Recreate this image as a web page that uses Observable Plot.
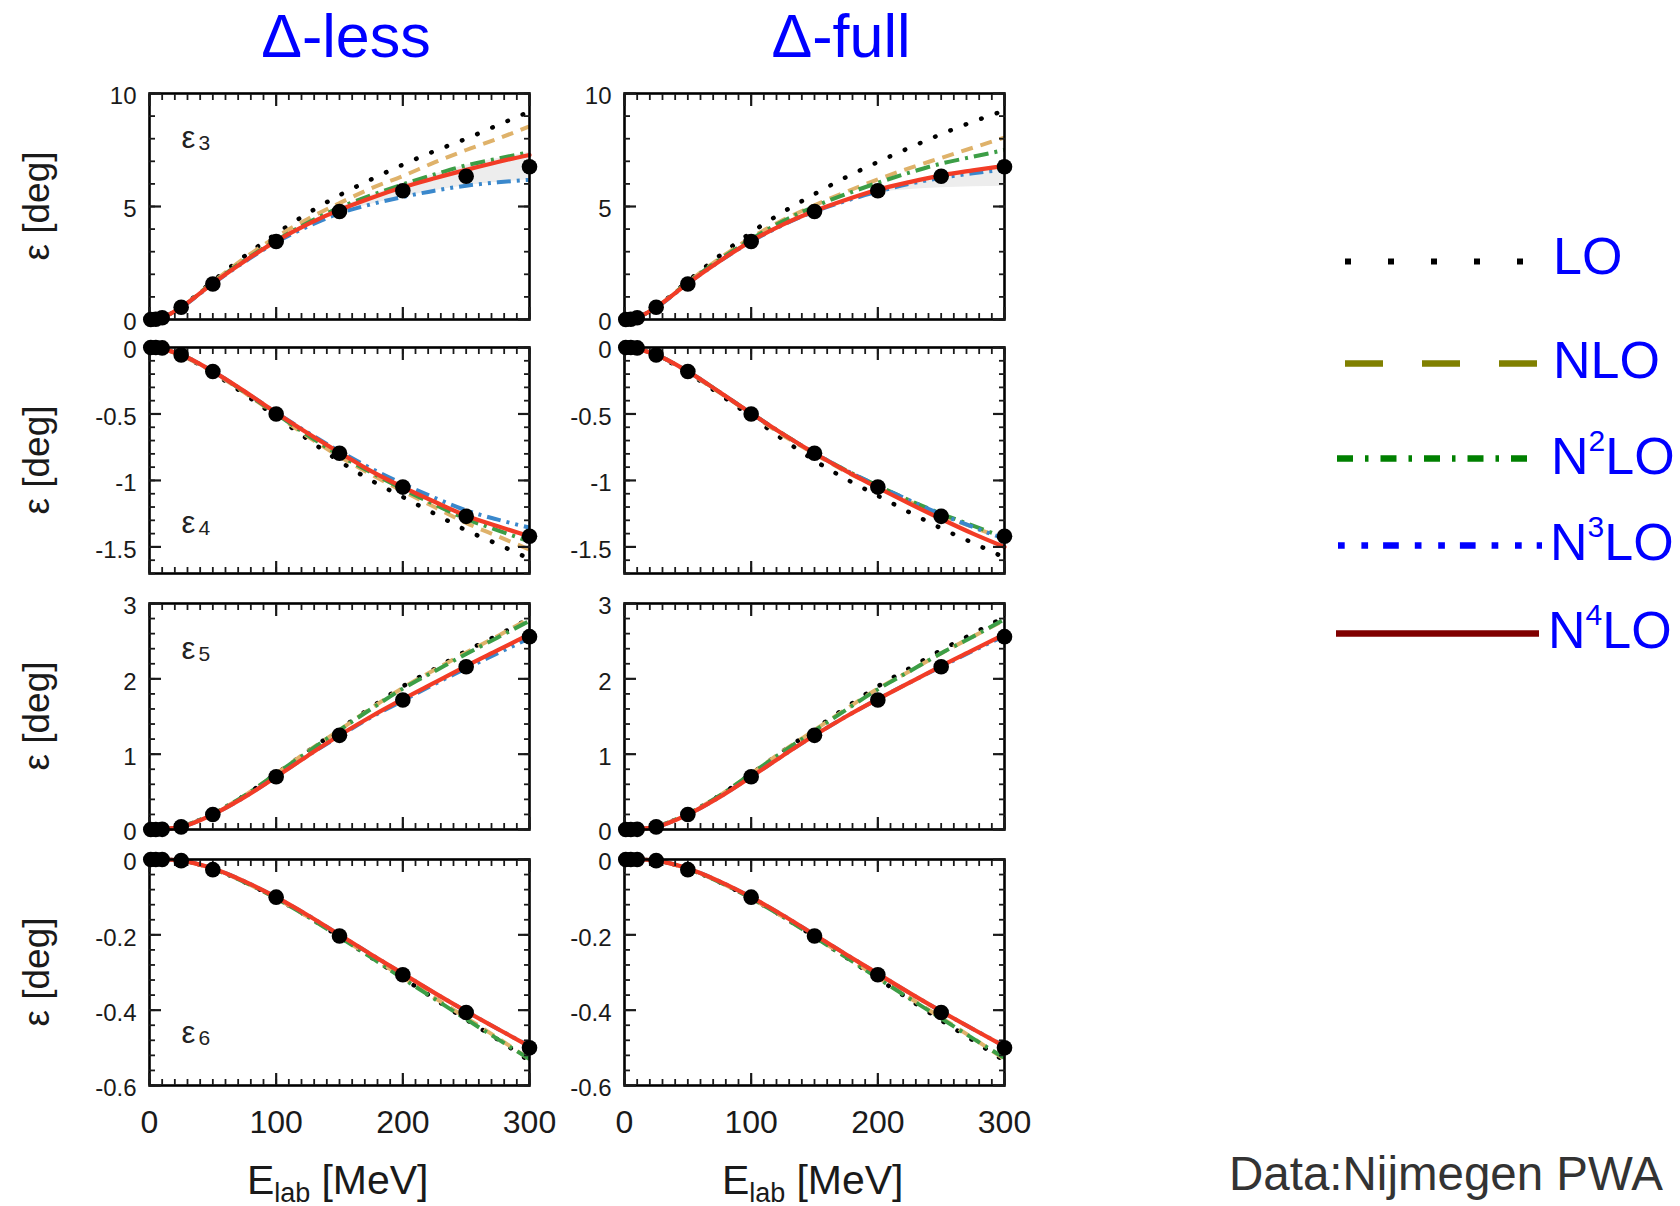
<!DOCTYPE html>
<html><head><meta charset="utf-8">
<script src="https://cdn.jsdelivr.net/npm/d3@7"></script>
<script src="https://cdn.jsdelivr.net/npm/@observablehq/plot@0.6"></script>
<style>
html,body{margin:0;padding:0;background:#fff;}
#root{position:relative;width:1680px;height:1206px;overflow:hidden;font-family:"Liberation Sans",Arial,sans-serif;}
</style></head><body><div id="root"></div>
<script>
// ---------------- data ----------------
const energies = [0, 10, 25, 50, 75, 100, 125, 150, 175, 200, 225, 250, 275, 300];
const pwaEnergies = [1, 5, 10, 25, 50, 100, 150, 200, 250, 300];
const orders = ["LO", "NLO", "N2LO", "N3LO", "N4LO"];
const columnTitles = ["Δ-less", "Δ-full"];
const panelLabels = ["3", "4", "5", "6"];
const xMajorTicks = [0, 100, 200, 300];

// epsilon_3
const pwaE3 = [0.0, 0.01, 0.08, 0.54, 1.57, 3.45, 4.78, 5.7, 6.34, 6.76];
const e3LessLO   = [0, 0.09, 0.56, 1.7, 2.8, 3.8, 4.7, 5.5, 6.2, 6.85, 7.45, 8.0, 8.6, 9.2];
const e3LessNLO  = [0, 0.09, 0.55, 1.65, 2.72, 3.65, 4.45, 5.15, 5.8, 6.35, 6.95, 7.5, 8.0, 8.55];
const e3LessN2LO = [0, 0.09, 0.54, 1.62, 2.62, 3.5, 4.28, 4.95, 5.5, 5.98, 6.42, 6.82, 7.12, 7.4];
const e3LessN3LO = [0, 0.09, 0.53, 1.58, 2.55, 3.42, 4.12, 4.7, 5.1, 5.42, 5.7, 5.92, 6.07, 6.18];
const e3LessN4LO = [0, 0.09, 0.54, 1.6, 2.58, 3.47, 4.22, 4.85, 5.38, 5.85, 6.25, 6.62, 6.97, 7.28];
const e3LessBandLo = [0, 0.09, 0.53, 1.58, 2.55, 3.42, 4.12, 4.7, 5.1, 5.42, 5.7, 5.92, 6.07, 6.18];
const e3LessBandHi = [0, 0.09, 0.54, 1.62, 2.62, 3.5, 4.28, 4.95, 5.5, 5.98, 6.42, 6.82, 7.12, 7.4];
const e3FullLO   = [0, 0.09, 0.56, 1.7, 2.82, 3.85, 4.75, 5.55, 6.3, 6.97, 7.6, 8.2, 8.75, 9.25];
const e3FullNLO  = [0, 0.09, 0.55, 1.65, 2.7, 3.62, 4.4, 5.05, 5.65, 6.2, 6.7, 7.15, 7.6, 8.05];
const e3FullN2LO = [0, 0.09, 0.54, 1.63, 2.65, 3.55, 4.35, 5.0, 5.55, 6.05, 6.5, 6.9, 7.2, 7.5];
const e3FullN3LO = [0, 0.09, 0.53, 1.59, 2.57, 3.45, 4.18, 4.78, 5.25, 5.66, 6.0, 6.27, 6.47, 6.63];
const e3FullN4LO = [0, 0.09, 0.54, 1.6, 2.58, 3.47, 4.2, 4.8, 5.3, 5.74, 6.08, 6.38, 6.6, 6.8];
const e3FullBandLo = [0, 0.09, 0.54, 1.6, 2.58, 3.47, 4.2, 4.8, 5.25, 5.6, 5.75, 5.83, 5.87, 5.9];
const e3FullBandHi = [0, 0.09, 0.54, 1.6, 2.58, 3.47, 4.2, 4.8, 5.3, 5.74, 6.08, 6.38, 6.6, 6.8];

// epsilon_4
const pwaE4 = [0, 0, -0.003, -0.056, -0.18, -0.5, -0.795, -1.05, -1.27, -1.42];
const e4LessLO   = [0, -0.01, -0.06, -0.19, -0.35, -0.52, -0.69, -0.855, -1.0, -1.125, -1.25, -1.375, -1.48, -1.59];
const e4LessNLO  = [0, -0.01, -0.06, -0.185, -0.34, -0.505, -0.67, -0.82, -0.955, -1.08, -1.2, -1.32, -1.42, -1.52];
const e4LessN2LO = [0, -0.01, -0.055, -0.18, -0.335, -0.5, -0.66, -0.81, -0.94, -1.065, -1.18, -1.29, -1.375, -1.46];
const e4LessN3LO = [0, -0.01, -0.055, -0.18, -0.33, -0.49, -0.64, -0.78, -0.91, -1.025, -1.13, -1.225, -1.295, -1.355];
const e4LessN4LO = [0, -0.01, -0.055, -0.18, -0.33, -0.49, -0.645, -0.79, -0.93, -1.05, -1.16, -1.265, -1.345, -1.42];
const e4FullLO   = [0, -0.01, -0.06, -0.19, -0.35, -0.52, -0.69, -0.85, -0.99, -1.115, -1.24, -1.36, -1.47, -1.58];
const e4FullNLO  = [0, -0.01, -0.055, -0.185, -0.34, -0.5, -0.66, -0.8, -0.935, -1.05, -1.16, -1.26, -1.35, -1.44];
const e4FullN2LO = [0, -0.01, -0.055, -0.18, -0.335, -0.495, -0.65, -0.795, -0.925, -1.04, -1.15, -1.25, -1.34, -1.43];
const e4FullN3LO = [0, -0.01, -0.055, -0.18, -0.335, -0.495, -0.65, -0.795, -0.925, -1.04, -1.15, -1.255, -1.35, -1.44];
const e4FullN4LO = [0, -0.01, -0.055, -0.18, -0.335, -0.495, -0.65, -0.795, -0.93, -1.055, -1.175, -1.29, -1.4, -1.5];

// epsilon_5
const pwaE5 = [0, 0, 0.002, 0.035, 0.2, 0.7, 1.25, 1.72, 2.16, 2.56];
const e5LessLO   = [0, 0.005, 0.04, 0.21, 0.45, 0.74, 1.04, 1.33, 1.62, 1.9, 2.13, 2.37, 2.58, 2.8];
const e5LessNLO  = [0, 0.005, 0.04, 0.21, 0.45, 0.74, 1.04, 1.32, 1.61, 1.88, 2.12, 2.35, 2.57, 2.8];
const e5LessN2LO = [0, 0.005, 0.04, 0.21, 0.45, 0.74, 1.03, 1.32, 1.6, 1.87, 2.1, 2.33, 2.55, 2.77];
const e5LessN3LO = [0, 0.005, 0.035, 0.2, 0.43, 0.7, 0.98, 1.24, 1.49, 1.71, 1.93, 2.14, 2.34, 2.54];
const e5LessN4LO = [0, 0.005, 0.035, 0.2, 0.43, 0.7, 0.98, 1.25, 1.5, 1.73, 1.95, 2.17, 2.38, 2.59];
const e5FullLO   = [0, 0.005, 0.04, 0.21, 0.45, 0.74, 1.04, 1.33, 1.62, 1.9, 2.14, 2.38, 2.6, 2.82];
const e5FullNLO  = [0, 0.005, 0.04, 0.21, 0.45, 0.74, 1.04, 1.32, 1.6, 1.87, 2.1, 2.34, 2.56, 2.78];
const e5FullN2LO = [0, 0.005, 0.04, 0.21, 0.45, 0.74, 1.03, 1.31, 1.59, 1.86, 2.1, 2.34, 2.56, 2.79];
const e5FullN3LO = [0, 0.005, 0.035, 0.2, 0.43, 0.7, 0.98, 1.25, 1.5, 1.73, 1.95, 2.16, 2.37, 2.57];
const e5FullN4LO = [0, 0.005, 0.035, 0.2, 0.43, 0.7, 0.98, 1.25, 1.5, 1.73, 1.95, 2.17, 2.38, 2.59];

// epsilon_6
const pwaE6 = [0, 0, 0, -0.003, -0.027, -0.1, -0.203, -0.306, -0.406, -0.5];
const e6LessLO   = [0, 0, -0.003, -0.025, -0.06, -0.103, -0.152, -0.205, -0.26, -0.315, -0.37, -0.425, -0.478, -0.535];
const e6LessNLO  = [0, 0, -0.003, -0.025, -0.06, -0.103, -0.152, -0.205, -0.258, -0.313, -0.367, -0.42, -0.474, -0.53];
const e6LessN2LO = [0, 0, -0.003, -0.025, -0.06, -0.103, -0.152, -0.206, -0.26, -0.316, -0.37, -0.424, -0.477, -0.53];
const e6LessN3LO = [0, 0, -0.003, -0.024, -0.058, -0.1, -0.148, -0.2, -0.252, -0.303, -0.354, -0.403, -0.45, -0.495];
const e6LessN4LO = [0, 0, -0.003, -0.024, -0.058, -0.1, -0.148, -0.2, -0.252, -0.303, -0.354, -0.403, -0.45, -0.496];
const e6FullLO   = [0, 0, -0.003, -0.025, -0.06, -0.103, -0.152, -0.205, -0.26, -0.316, -0.372, -0.427, -0.48, -0.535];
const e6FullNLO  = [0, 0, -0.003, -0.025, -0.06, -0.103, -0.152, -0.205, -0.258, -0.313, -0.367, -0.42, -0.474, -0.53];
const e6FullN2LO = [0, 0, -0.003, -0.025, -0.06, -0.103, -0.152, -0.206, -0.26, -0.315, -0.369, -0.422, -0.475, -0.527];
const e6FullN3LO = [0, 0, -0.003, -0.024, -0.058, -0.1, -0.148, -0.2, -0.252, -0.303, -0.354, -0.403, -0.45, -0.495];
const e6FullN4LO = [0, 0, -0.003, -0.024, -0.058, -0.1, -0.148, -0.2, -0.252, -0.303, -0.354, -0.403, -0.45, -0.496];

// y-axis tick labels per row
const yDomains = [[0, 10], [-1.7, 0], [0, 3], [-0.6, 0]];
const yMajorTicks = [[0, 5, 10], [0, -0.5, -1, -1.5], [0, 1, 2, 3], [0, -0.2, -0.4, -0.6]];
const yMinorStep = [1, 0.1, 0.2, 0.04];

// ---------------- styles ----------------
const lineStyle = {
  LO:   {stroke: "#000000", strokeWidth: 4.5, strokeDasharray: "0.5 16", strokeLinecap: "round"},
  NLO:  {stroke: "#dfb26a", strokeWidth: 4, strokeDasharray: "12 8", strokeLinecap: "butt"},
  N2LO: {stroke: "#3c9e46", strokeWidth: 4, strokeDasharray: "15 6 3 6", strokeLinecap: "butt"},
  N3LO: {stroke: "#3a88cc", strokeWidth: 4, strokeDasharray: "14 6 3 6 3 6", strokeLinecap: "butt"},
  N4LO: {stroke: "#f23c26", strokeWidth: 4.2, strokeDasharray: null, strokeLinecap: "round"}
};
const legendStyle = {
  LO:   {color: "#000000", dash: "6 37", w: 6, x1: 1345, x2: 1523, y: 261, tx: 1553, ty: 274},
  NLO:  {color: "#808000", dash: "38 39", w: 6.5, x1: 1345, x2: 1537, y: 363, tx: 1553, ty: 378},
  N2LO: {color: "#008000", dash: "16 12 3.5 12", w: 6.5, x1: 1337, x2: 1537, y: 458, tx: 1551, ty: 474},
  N3LO: {color: "#0000ff", dash: "6.7 16.7 6.7 15 15.7 16", w: 6.5, x1: 1338, x2: 1542, y: 545, tx: 1550, ty: 560},
  N4LO: {color: "#800000", dash: null, w: 6.5, x1: 1336, x2: 1539, y: 633, tx: 1548, ty: 648}
};
const colLeft = [149, 624];
const rowTop = [93, 347, 603, 859];
const W = 380, H = 226;

const panels = [
  {row: 0, col: 0, curves: {LO: e3LessLO, NLO: e3LessNLO, N2LO: e3LessN2LO, N3LO: e3LessN3LO, N4LO: e3LessN4LO}, bandLo: e3LessBandLo, bandHi: e3LessBandHi, pwa: pwaE3},
  {row: 0, col: 1, curves: {LO: e3FullLO, NLO: e3FullNLO, N2LO: e3FullN2LO, N3LO: e3FullN3LO, N4LO: e3FullN4LO}, bandLo: e3FullBandLo, bandHi: e3FullBandHi, pwa: pwaE3},
  {row: 1, col: 0, curves: {LO: e4LessLO, NLO: e4LessNLO, N2LO: e4LessN2LO, N3LO: e4LessN3LO, N4LO: e4LessN4LO}, pwa: pwaE4},
  {row: 1, col: 1, curves: {LO: e4FullLO, NLO: e4FullNLO, N2LO: e4FullN2LO, N3LO: e4FullN3LO, N4LO: e4FullN4LO}, pwa: pwaE4},
  {row: 2, col: 0, curves: {LO: e5LessLO, NLO: e5LessNLO, N2LO: e5LessN2LO, N3LO: e5LessN3LO, N4LO: e5LessN4LO}, pwa: pwaE5},
  {row: 2, col: 1, curves: {LO: e5FullLO, NLO: e5FullNLO, N2LO: e5FullN2LO, N3LO: e5FullN3LO, N4LO: e5FullN4LO}, pwa: pwaE5},
  {row: 3, col: 0, curves: {LO: e6LessLO, NLO: e6LessNLO, N2LO: e6LessN2LO, N3LO: e6LessN3LO, N4LO: e6LessN4LO}, pwa: pwaE6},
  {row: 3, col: 1, curves: {LO: e6FullLO, NLO: e6FullNLO, N2LO: e6FullN2LO, N3LO: e6FullN3LO, N4LO: e6FullN4LO}, pwa: pwaE6}
];
// label offsets from frame top (layout)
const epsLabelDy = [32, 163, 33, 161];

const root = document.getElementById("root");
const xMinorTicks = d3.range(0, 301, 10);

function makePanel(p) {
  const showX = p.row === 3;
  const mL = 80, mR = 45, mT = 20, mB = showX ? 64 : 20;
  const dom = yDomains[p.row];
  const step = yMinorStep[p.row];
  const nMinor = Math.round((dom[1] - dom[0]) / step);
  const yMinor = d3.range(0, nMinor + 1).map(k => +(dom[0] + k * step).toFixed(4));
  const marks = [];
  if (p.bandLo) {
    marks.push(Plot.areaY(energies.map((E, i) => ({E, lo: p.bandLo[i], hi: p.bandHi[i]})),
      {x: "E", y1: "lo", y2: "hi", fill: "#ededed", curve: "monotone-x"}));
  }
  for (const o of orders) {
    const s = lineStyle[o];
    marks.push(Plot.line(energies.map((E, i) => ({E, v: p.curves[o][i]})),
      {x: "E", y: "v", stroke: s.stroke, strokeWidth: s.strokeWidth, strokeDasharray: s.strokeDasharray,
       strokeLinecap: s.strokeLinecap, curve: "monotone-x"}));
  }
  marks.push(Plot.frame({stroke: "black", strokeWidth: 2.6}));
  for (const anchor of ["bottom", "top"]) {
    marks.push(Plot.axisX(xMinorTicks, {anchor, tickSize: -6, tickFormat: () => "", strokeWidth: 1.8, label: null}));
    marks.push(Plot.axisX(xMajorTicks, {anchor, tickSize: -12, tickFormat: () => "", strokeWidth: 2.2, label: null}));
  }
  for (const anchor of ["left", "right"]) {
    marks.push(Plot.axisY(yMinor, {anchor, tickSize: -6, tickFormat: () => "", strokeWidth: 1.8, label: null}));
    marks.push(Plot.axisY(yMajorTicks[p.row], {anchor, tickSize: -12, tickFormat: () => "", strokeWidth: 2.2, label: null}));
  }
  marks.push(Plot.axisY(yMajorTicks[p.row], {anchor: "left", tickSize: 0, tickPadding: 13, tickFormat: d => String(d),
    fontSize: 24, dy: 3, label: null}));
  if (showX) {
    marks.push(Plot.axisX(xMajorTicks, {anchor: "bottom", tickSize: 0, tickPadding: 25, tickFormat: d => String(d),
      fontSize: 32, label: null}));
  }
  if (p.col === 0) {
    const dy = epsLabelDy[p.row];
    marks.push(Plot.text(["ε"], {frameAnchor: "top-left", dx: 32, dy: dy, textAnchor: "start", fontSize: 31, fill: "#222"}));
    marks.push(Plot.text([panelLabels[p.row]], {frameAnchor: "top-left", dx: 49, dy: dy + 10, textAnchor: "start", fontSize: 21, fill: "#222"}));
  }
  marks.push(Plot.dot(pwaEnergies.map((E, i) => ({E, v: p.pwa[i]})), {x: "E", y: "v", r: 7.8, fill: "black", stroke: "none"}));

  const chart = Plot.plot({
    width: mL + W + mR, height: mT + H + mB,
    marginLeft: mL, marginRight: mR, marginTop: mT, marginBottom: mB,
    x: {domain: [0, 300], axis: null},
    y: {domain: dom, axis: null},
    style: {background: "transparent", overflow: "visible", fontFamily: "'Liberation Sans', Arial, sans-serif", color: "#1a1a1a"},
    marks
  });
  chart.style.position = "absolute";
  chart.style.left = (colLeft[p.col] - mL) + "px";
  chart.style.top = (rowTop[p.row] - mT) + "px";
  chart.style.maxWidth = "none";
  root.appendChild(chart);
}
panels.forEach(makePanel);

// legend lines
for (const o of orders) {
  const s = legendStyle[o];
  const chart = Plot.plot({
    width: s.x2 - s.x1, height: 20, margin: 0,
    x: {domain: [0, 1], axis: null}, y: {domain: [-1, 1], axis: null},
    style: {background: "transparent", overflow: "visible"},
    marks: [Plot.ruleY([0], {x1: 0, x2: 1, stroke: s.color, strokeWidth: s.w, strokeDasharray: s.dash})]
  });
  chart.style.position = "absolute";
  chart.style.left = s.x1 + "px";
  chart.style.top = (s.y - 10) + "px";
  chart.style.maxWidth = "none";
  root.appendChild(chart);
}

// text overlay
const ov = d3.select(root).append("svg")
  .attr("width", 1680).attr("height", 1206)
  .style("position", "absolute").style("left", "0px").style("top", "0px")
  .style("pointer-events", "none")
  .style("font-family", "'Liberation Sans', Arial, sans-serif");

const titleX = [346, 841];
columnTitles.forEach((t, i) => {
  ov.append("text").attr("x", titleX[i]).attr("y", 57).attr("text-anchor", "middle")
    .attr("font-size", 61).attr("fill", "#0000ff").text(t);
});
const rowCenters = rowTop.map(t => t + H / 2);
rowCenters.forEach(cy => {
  ov.append("text").attr("transform", `translate(49,${cy}) rotate(-90)`).attr("text-anchor", "middle")
    .attr("font-size", 37).attr("fill", "#1a1a1a").text("ε [deg]");
});
// x-axis titles as separate text pieces (E, subscript "lab", [MeV])
const xLabelStart = [247, 722];
xLabelStart.forEach(x0 => {
  const e = ov.append("text").attr("x", x0).attr("y", 1194).attr("font-size", 41).attr("fill", "#1a1a1a").text("E");
  const x1 = x0 + e.node().getComputedTextLength();
  const sub = ov.append("text").attr("x", x1).attr("y", 1202).attr("font-size", 27).attr("fill", "#1a1a1a").text("lab");
  const x2 = x1 + sub.node().getComputedTextLength() + 11;
  ov.append("text").attr("x", x2).attr("y", 1194).attr("font-size", 41).attr("fill", "#1a1a1a").text("[MeV]");
});
const legendText = {LO: ["LO"], NLO: ["NLO"], N2LO: ["N", "2", "LO"], N3LO: ["N", "3", "LO"], N4LO: ["N", "4", "LO"]};
for (const o of orders) {
  const s = legendStyle[o];
  const parts = legendText[o];
  const t = ov.append("text").attr("x", s.tx).attr("y", s.ty).attr("font-size", 52).attr("fill", "#0000ff");
  if (parts.length === 1) t.text(parts[0]);
  else {
    t.append("tspan").text(parts[0]);
    t.append("tspan").attr("font-size", 30).attr("dy", -23).text(parts[1]);
    t.append("tspan").attr("dy", 23).text(parts[2]);
  }
}
ov.append("text").attr("x", 1229).attr("y", 1190).attr("font-size", 47.5).attr("fill", "#333333").text("Data:Nijmegen PWA");
</script></body></html>
